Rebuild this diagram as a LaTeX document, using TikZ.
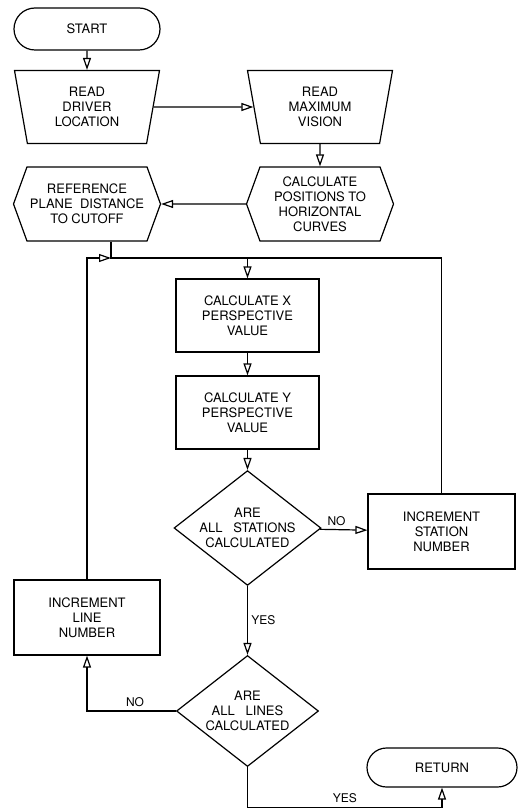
\documentclass[tikz,border=0pt]{standalone}
\usepackage{fontspec}
\setmainfont{TeX Gyre Heros}
\usetikzlibrary{shapes.geometric,shapes.misc,shapes.symbols,arrows.meta,positioning,calc}

\begin{document}
\begin{tikzpicture}[
    x=1pt, y=1pt,
    font=\fontsize{13}{15}\selectfont,
    line width=1.2pt,
    term/.style={rounded rectangle, draw, minimum width=146pt, minimum height=42pt, inner sep=0pt},
    readbox/.style={trapezium, shape border rotate=180, trapezium left angle=72, trapezium right angle=72, trapezium stretches body, draw, minimum width=145pt, minimum height=73pt, align=center, inner sep=0pt},
    prep/.style={signal, signal to=east and west, signal pointer angle=140, draw, minimum width=147pt, minimum height=74pt, align=center, inner sep=0pt},
    procbox/.style={rectangle, draw, minimum width=143pt, minimum height=73pt, align=center},
    decision/.style={diamond, draw, aspect=1.28, minimum width=142pt, minimum height=111pt, align=center, inner sep=0pt},
    arrow/.style={-{Triangle[open, length=12pt, width=8pt]}},
    lbl/.style={font=\fontsize{12}{14}\selectfont},
]
\path[fill=white, use as bounding box] (0,0) rectangle (528,-810);

% Input
\node[term] (start) at (87,-29) {START};
\node[readbox] (rdriver) at (87,-107) {READ\\DRIVER\\LOCATION};
\node[readbox] (rvision) at (320,-107) {READ\\MAXIMUM\\VISION};
\draw[arrow] (start) -- (rdriver);
\draw[arrow] (rdriver) -- (rvision);

% Preparation
\node[prep] (calcpos) at (320,-204) {CALCULATE\\POSITIONS TO\\HORIZONTAL\\CURVES};
\node[prep] (refplane) at (87,-204) {REFERENCE\\PLANE\ \ DISTANCE\\TO CUTOFF};
\draw[arrow] (rvision) -- (calcpos);
\draw[arrow] (calcpos) -- (refplane);

% Station loop
\node[procbox] (calcx) at (247.5,-315.5) {CALCULATE X\\PERSPECTIVE\\VALUE};
\node[procbox] (calcy) at (247.5,-412.5) {CALCULATE Y\\PERSPECTIVE\\VALUE};
\node[decision] (allst) at (247.5,-528) {ARE\\ALL\ \ \ STATIONS\\CALCULATED};
\node[procbox, minimum width=147pt, minimum height=75pt] (incst) at (441.5,-531.5) {INCREMENT\\STATION\\NUMBER};
\coordinate (join) at (111,-258);
\coordinate (top) at (calcx.north |- join);
\draw (refplane.south -| join) -- (join) -- (top);
\draw (incst.north) |- (top);
\draw[arrow] (top) -- (calcx);
\draw[arrow] (calcx) -- (calcy);
\draw[arrow] (calcy) -- (allst);
\draw[arrow] (allst) -- node[lbl, above, pos=0.35] {NO} (incst);

% Line loop
\node[decision] (allln) at (247.5,-711) {ARE\\ALL\ \ \ LINES\\CALCULATED};
\node[procbox, minimum width=146pt, minimum height=75pt] (incln) at (87,-617.5) {INCREMENT\\LINE\\NUMBER};
\draw[arrow] (allst) -- node[lbl, right] {YES} (allln);
\draw[arrow] (allln.west) -| node[lbl, above, pos=0.23] {NO} (incln);
\draw[arrow] (incln.north) |- (join);

% Exit
\node[term, minimum width=150pt, minimum height=39pt] (ret) at (442,-767.5) {RETURN};
\coordinate (bot) at ($(allln.south)+(0,-40)$);
\draw[arrow] (allln.south) -- (bot) -| node[lbl, above, pos=0.25] {YES} (ret);

\end{tikzpicture}
\end{document}
